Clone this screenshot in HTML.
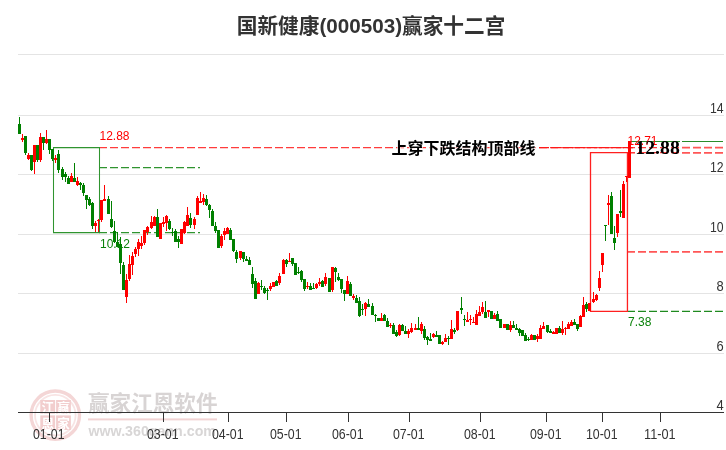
<!DOCTYPE html>
<html lang="zh-CN"><head><meta charset="utf-8"><title>国新健康(000503)赢家十二宫</title>
<style>
html,body{margin:0;padding:0;background:#fff;}
body{width:726px;height:450px;overflow:hidden;}
svg{display:block;}
text{font-family:"Liberation Sans","Noto Sans CJK SC",sans-serif;}
.ax{font-size:14.5px;fill:#333;}
.t{font-family:"Liberation Sans","Noto Sans CJK SC",sans-serif;font-weight:bold;}
</style></head><body>
<svg width="726" height="450" viewBox="0 0 726 450">
<rect width="726" height="450" fill="#fff"/>

<g shape-rendering="crispEdges" fill="#e4e4e4">
<rect x="18" y="54" width="706" height="1"/>
<rect x="18" y="115" width="706" height="1"/>
<rect x="18" y="174" width="706" height="1"/>
<rect x="18" y="234" width="706" height="1"/>
<rect x="18" y="293" width="706" height="1"/>
<rect x="18" y="353" width="706" height="1"/>
</g>
<g id="wm" opacity="1">
<circle cx="55.3" cy="415.2" r="24.2" fill="none" stroke="#f4d6d6" stroke-width="3.4"/>
<circle cx="55.3" cy="415.2" r="20.3" fill="none" stroke="#f8e4e4" stroke-width="1.8"/>
<rect x="40.3" y="400" width="14.8" height="13.6" fill="#f2cece"/>
<rect x="56.1" y="400" width="14.8" height="13.6" fill="#f2cece"/>
<rect x="40.3" y="415.4" width="14.8" height="14.6" fill="#f2cece"/>
<rect x="56.1" y="415.4" width="14.8" height="14.6" fill="#f2cece"/>
<text x="41.4" y="411.8" font-size="12.6" font-weight="bold" fill="#fff" class="t">江</text>
<text x="57.2" y="411.8" font-size="12.6" font-weight="bold" fill="#fff" class="t">赢</text>
<text x="41.4" y="427.6" font-size="12.6" font-weight="bold" fill="#fff" class="t">恩</text>
<text x="57.2" y="427.6" font-size="12.6" font-weight="bold" fill="#fff" class="t">家</text>
<text x="88" y="410.6" font-size="21.6" font-weight="bold" fill="#d8d4d4" class="t" textLength="129.5" lengthAdjust="spacingAndGlyphs">赢家江恩软件</text>
<rect x="88" y="418.4" width="129" height="2" fill="#f2d4d4"/>
<text x="88.5" y="435.7" font-size="14.2" font-weight="bold" fill="#d8d6d6" class="t" textLength="127.5" lengthAdjust="spacingAndGlyphs">www.360gann.com</text>
</g>

<g shape-rendering="crispEdges" fill="#333">
<rect x="18" y="412" width="706" height="1"/>
<rect x="49" y="412" width="1" height="10"/>
<rect x="163" y="412" width="1" height="10"/>
<rect x="228" y="412" width="1" height="10"/>
<rect x="286" y="412" width="1" height="10"/>
<rect x="348" y="412" width="1" height="10"/>
<rect x="409" y="412" width="1" height="10"/>
<rect x="480" y="412" width="1" height="10"/>
<rect x="546" y="412" width="1" height="10"/>
<rect x="602" y="412" width="1" height="10"/>
<rect x="660" y="412" width="1" height="10"/>
</g>
<text class="ax" x="48.8" y="438.6" text-anchor="middle" textLength="31.6" lengthAdjust="spacingAndGlyphs">01-01</text>
<text class="ax" x="162.8" y="438.6" text-anchor="middle" textLength="31.6" lengthAdjust="spacingAndGlyphs">03-01</text>
<text class="ax" x="227.8" y="438.6" text-anchor="middle" textLength="31.6" lengthAdjust="spacingAndGlyphs">04-01</text>
<text class="ax" x="285.8" y="438.6" text-anchor="middle" textLength="31.6" lengthAdjust="spacingAndGlyphs">05-01</text>
<text class="ax" x="347.8" y="438.6" text-anchor="middle" textLength="31.6" lengthAdjust="spacingAndGlyphs">06-01</text>
<text class="ax" x="408.8" y="438.6" text-anchor="middle" textLength="31.6" lengthAdjust="spacingAndGlyphs">07-01</text>
<text class="ax" x="479.8" y="438.6" text-anchor="middle" textLength="31.6" lengthAdjust="spacingAndGlyphs">08-01</text>
<text class="ax" x="545.8" y="438.6" text-anchor="middle" textLength="31.6" lengthAdjust="spacingAndGlyphs">09-01</text>
<text class="ax" x="601.8" y="438.6" text-anchor="middle" textLength="31.6" lengthAdjust="spacingAndGlyphs">10-01</text>
<text class="ax" x="659.8" y="438.6" text-anchor="middle" textLength="31.6" lengthAdjust="spacingAndGlyphs">11-01</text>
<text class="ax" x="723.6" y="113" text-anchor="end" textLength="13.6" lengthAdjust="spacingAndGlyphs">14</text>
<text class="ax" x="723.6" y="172" text-anchor="end" textLength="13.6" lengthAdjust="spacingAndGlyphs">12</text>
<text class="ax" x="723.6" y="232" text-anchor="end" textLength="13.6" lengthAdjust="spacingAndGlyphs">10</text>
<text class="ax" x="723.6" y="291" text-anchor="end" textLength="7.2" lengthAdjust="spacingAndGlyphs">8</text>
<text class="ax" x="723.6" y="351" text-anchor="end" textLength="7.2" lengthAdjust="spacingAndGlyphs">6</text>
<text class="ax" x="723.6" y="410" text-anchor="end" textLength="7.2" lengthAdjust="spacingAndGlyphs">4</text>
<g fill="none" stroke-width="1.25">
<path d="M99 147.65H682" stroke="#ff3c3c" stroke-dasharray="8 3"/>
<path d="M99 167.65H200" stroke="#2f942f" stroke-dasharray="8 3"/>
<path d="M99 232.65H200" stroke="#2f942f" stroke-dasharray="8 3"/>
<path d="M53 147.65H100M53 232.65H100" stroke="#2f942f"/>
<path d="M53.5 147.5V232.8M99.5 147.5V232.8" stroke="#2f942f" stroke-width="1.05"/>
<path d="M539 147.65H635" stroke="#ff1818" stroke-dasharray="10 2"/>
<path d="M628 152.7H635" stroke="#ff1818"/>
<path d="M627 152.7H682" stroke="#ff3c3c" stroke-dasharray="8 3"/>
<path d="M631 141.5H680M682 141.5H723" stroke="#2a8c2a" stroke-width="1" shape-rendering="crispEdges"/>
<path d="M682 147.7H724" stroke="#ff5656" stroke-width="1.7" stroke-dasharray="8 3"/>
<path d="M682 152.8H724" stroke="#ff5656" stroke-width="1.7" stroke-dasharray="8 3"/>
<path d="M627 251.9H724" stroke="#ff5656" stroke-width="1.7" stroke-dasharray="8 3"/>
<path d="M627 311.4H724" stroke="#1f8a1f" stroke-width="1.3" stroke-dasharray="8 3"/>
<path d="M590.5 152.6H627.45V311.4H590.5Z" stroke="#ff2020" stroke-width="1.3"/>
</g>
<text x="99.5" y="140" font-size="12" fill="#ff0000">12.88</text>
<text x="100" y="248" font-size="12" fill="#0a820a">10.12</text>
<text x="628" y="326.2" font-size="12" fill="#0a820a">7.38</text>
<text x="627.5" y="145.2" font-size="12" fill="#ff0000">12.71</text>

<g shape-rendering="crispEdges">
<rect x="19" y="117" width="1" height="17" fill="#008000"/>
<rect x="18" y="124" width="3" height="10" fill="#008000"/>
<rect x="22" y="134" width="1" height="8" fill="#ff0000"/>
<rect x="21" y="138" width="3" height="2" fill="#ff0000"/>
<rect x="25" y="136" width="1" height="19" fill="#008000"/>
<rect x="24" y="136" width="3" height="17" fill="#008000"/>
<rect x="28" y="153" width="1" height="7" fill="#ff0000"/>
<rect x="27" y="155" width="3" height="4" fill="#ff0000"/>
<rect x="31" y="155" width="1" height="16" fill="#008000"/>
<rect x="30" y="155" width="3" height="15" fill="#008000"/>
<rect x="34" y="145" width="1" height="29" fill="#ff0000"/>
<rect x="33" y="145" width="3" height="17" fill="#ff0000"/>
<rect x="37" y="145" width="1" height="17" fill="#008000"/>
<rect x="36" y="145" width="3" height="15" fill="#008000"/>
<rect x="40" y="133" width="1" height="29" fill="#ff0000"/>
<rect x="39" y="137" width="3" height="23" fill="#ff0000"/>
<rect x="43" y="137" width="1" height="13" fill="#008000"/>
<rect x="42" y="137" width="3" height="6" fill="#008000"/>
<rect x="46" y="130" width="1" height="14" fill="#ff0000"/>
<rect x="45" y="139" width="3" height="4" fill="#ff0000"/>
<rect x="49" y="139" width="1" height="15" fill="#008000"/>
<rect x="48" y="139" width="3" height="11" fill="#008000"/>
<rect x="52" y="149" width="1" height="12" fill="#008000"/>
<rect x="51" y="149" width="3" height="10" fill="#008000"/>
<rect x="55" y="155" width="1" height="8" fill="#ff0000"/>
<rect x="54" y="158" width="3" height="2" fill="#ff0000"/>
<rect x="58" y="150" width="1" height="23" fill="#008000"/>
<rect x="57" y="154" width="3" height="16" fill="#008000"/>
<rect x="62" y="167" width="1" height="13" fill="#008000"/>
<rect x="61" y="169" width="3" height="8" fill="#008000"/>
<rect x="65" y="172" width="1" height="10" fill="#008000"/>
<rect x="64" y="174" width="3" height="3" fill="#008000"/>
<rect x="68" y="176" width="1" height="8" fill="#008000"/>
<rect x="67" y="178" width="3" height="6" fill="#008000"/>
<rect x="71" y="173" width="1" height="9" fill="#ff0000"/>
<rect x="70" y="176" width="3" height="6" fill="#ff0000"/>
<rect x="74" y="163" width="1" height="19" fill="#008000"/>
<rect x="73" y="178" width="3" height="4" fill="#008000"/>
<rect x="77" y="177" width="1" height="9" fill="#ff0000"/>
<rect x="76" y="181" width="3" height="4" fill="#ff0000"/>
<rect x="80" y="182" width="1" height="8" fill="#008000"/>
<rect x="79" y="183" width="3" height="2" fill="#008000"/>
<rect x="83" y="183" width="1" height="13" fill="#008000"/>
<rect x="82" y="185" width="3" height="8" fill="#008000"/>
<rect x="86" y="195" width="1" height="14" fill="#008000"/>
<rect x="85" y="195" width="3" height="5" fill="#008000"/>
<rect x="89" y="197" width="1" height="9" fill="#008000"/>
<rect x="88" y="199" width="3" height="6" fill="#008000"/>
<rect x="92" y="202" width="1" height="27" fill="#008000"/>
<rect x="91" y="203" width="3" height="23" fill="#008000"/>
<rect x="95" y="221" width="1" height="11" fill="#ff0000"/>
<rect x="94" y="223" width="3" height="3" fill="#ff0000"/>
<rect x="98" y="219" width="1" height="13" fill="#ff0000"/>
<rect x="97" y="220" width="3" height="1" fill="#ff0000"/>
<rect x="101" y="200" width="1" height="22" fill="#ff0000"/>
<rect x="100" y="200" width="3" height="20" fill="#ff0000"/>
<rect x="104" y="185" width="1" height="16" fill="#ff0000"/>
<rect x="103" y="199" width="3" height="2" fill="#ff0000"/>
<rect x="108" y="196" width="1" height="18" fill="#008000"/>
<rect x="107" y="199" width="3" height="15" fill="#008000"/>
<rect x="111" y="201" width="1" height="27" fill="#008000"/>
<rect x="110" y="219" width="3" height="8" fill="#008000"/>
<rect x="114" y="221" width="1" height="22" fill="#008000"/>
<rect x="113" y="231" width="3" height="11" fill="#008000"/>
<rect x="117" y="232" width="1" height="15" fill="#008000"/>
<rect x="116" y="242" width="3" height="5" fill="#008000"/>
<rect x="120" y="237" width="1" height="37" fill="#008000"/>
<rect x="119" y="244" width="3" height="19" fill="#008000"/>
<rect x="123" y="262" width="1" height="28" fill="#008000"/>
<rect x="122" y="265" width="3" height="25" fill="#008000"/>
<rect x="126" y="274" width="1" height="29" fill="#ff0000"/>
<rect x="125" y="280" width="3" height="17" fill="#ff0000"/>
<rect x="129" y="255" width="1" height="26" fill="#ff0000"/>
<rect x="128" y="264" width="3" height="15" fill="#ff0000"/>
<rect x="132" y="252" width="1" height="23" fill="#ff0000"/>
<rect x="131" y="256" width="3" height="9" fill="#ff0000"/>
<rect x="135" y="247" width="1" height="10" fill="#ff0000"/>
<rect x="134" y="249" width="3" height="5" fill="#ff0000"/>
<rect x="138" y="239" width="1" height="17" fill="#ff0000"/>
<rect x="137" y="242" width="3" height="7" fill="#ff0000"/>
<rect x="141" y="236" width="1" height="13" fill="#ff0000"/>
<rect x="140" y="243" width="3" height="3" fill="#ff0000"/>
<rect x="144" y="230" width="1" height="15" fill="#ff0000"/>
<rect x="143" y="230" width="3" height="13" fill="#ff0000"/>
<rect x="147" y="226" width="1" height="9" fill="#ff0000"/>
<rect x="146" y="227" width="3" height="5" fill="#ff0000"/>
<rect x="151" y="216" width="1" height="13" fill="#ff0000"/>
<rect x="150" y="222" width="3" height="6" fill="#ff0000"/>
<rect x="154" y="216" width="1" height="10" fill="#ff0000"/>
<rect x="153" y="217" width="3" height="9" fill="#ff0000"/>
<rect x="157" y="209" width="1" height="28" fill="#008000"/>
<rect x="156" y="217" width="3" height="20" fill="#008000"/>
<rect x="160" y="223" width="1" height="16" fill="#ff0000"/>
<rect x="159" y="223" width="3" height="16" fill="#ff0000"/>
<rect x="163" y="217" width="1" height="10" fill="#ff0000"/>
<rect x="162" y="222" width="3" height="2" fill="#ff0000"/>
<rect x="166" y="215" width="1" height="16" fill="#ff0000"/>
<rect x="165" y="216" width="3" height="7" fill="#ff0000"/>
<rect x="169" y="219" width="1" height="11" fill="#008000"/>
<rect x="168" y="221" width="3" height="8" fill="#008000"/>
<rect x="172" y="228" width="1" height="8" fill="#008000"/>
<rect x="171" y="232" width="3" height="1" fill="#008000"/>
<rect x="175" y="229" width="1" height="13" fill="#008000"/>
<rect x="174" y="231" width="3" height="11" fill="#008000"/>
<rect x="178" y="236" width="1" height="12" fill="#008000"/>
<rect x="177" y="239" width="3" height="3" fill="#008000"/>
<rect x="181" y="229" width="1" height="15" fill="#ff0000"/>
<rect x="180" y="229" width="3" height="15" fill="#ff0000"/>
<rect x="184" y="221" width="1" height="13" fill="#ff0000"/>
<rect x="183" y="222" width="3" height="11" fill="#ff0000"/>
<rect x="187" y="207" width="1" height="19" fill="#ff0000"/>
<rect x="186" y="215" width="3" height="11" fill="#ff0000"/>
<rect x="190" y="213" width="1" height="15" fill="#008000"/>
<rect x="189" y="218" width="3" height="7" fill="#008000"/>
<rect x="194" y="217" width="1" height="12" fill="#ff0000"/>
<rect x="193" y="219" width="3" height="6" fill="#ff0000"/>
<rect x="197" y="196" width="1" height="19" fill="#ff0000"/>
<rect x="196" y="198" width="3" height="17" fill="#ff0000"/>
<rect x="200" y="192" width="1" height="11" fill="#ff0000"/>
<rect x="199" y="201" width="3" height="2" fill="#ff0000"/>
<rect x="203" y="194" width="1" height="11" fill="#ff0000"/>
<rect x="202" y="198" width="3" height="4" fill="#ff0000"/>
<rect x="206" y="195" width="1" height="11" fill="#008000"/>
<rect x="205" y="199" width="3" height="6" fill="#008000"/>
<rect x="209" y="204" width="1" height="14" fill="#008000"/>
<rect x="208" y="205" width="3" height="5" fill="#008000"/>
<rect x="212" y="209" width="1" height="17" fill="#008000"/>
<rect x="211" y="211" width="3" height="15" fill="#008000"/>
<rect x="215" y="222" width="1" height="11" fill="#008000"/>
<rect x="214" y="226" width="3" height="5" fill="#008000"/>
<rect x="218" y="230" width="1" height="18" fill="#008000"/>
<rect x="217" y="230" width="3" height="18" fill="#008000"/>
<rect x="221" y="234" width="1" height="14" fill="#ff0000"/>
<rect x="220" y="236" width="3" height="10" fill="#ff0000"/>
<rect x="224" y="228" width="1" height="12" fill="#ff0000"/>
<rect x="223" y="231" width="3" height="4" fill="#ff0000"/>
<rect x="227" y="227" width="1" height="7" fill="#ff0000"/>
<rect x="226" y="228" width="3" height="6" fill="#ff0000"/>
<rect x="230" y="228" width="1" height="12" fill="#008000"/>
<rect x="229" y="230" width="3" height="10" fill="#008000"/>
<rect x="233" y="239" width="1" height="13" fill="#008000"/>
<rect x="232" y="239" width="3" height="12" fill="#008000"/>
<rect x="236" y="250" width="1" height="13" fill="#008000"/>
<rect x="235" y="252" width="3" height="7" fill="#008000"/>
<rect x="240" y="251" width="1" height="9" fill="#ff0000"/>
<rect x="239" y="251" width="3" height="7" fill="#ff0000"/>
<rect x="243" y="252" width="1" height="10" fill="#008000"/>
<rect x="242" y="252" width="3" height="7" fill="#008000"/>
<rect x="246" y="256" width="1" height="5" fill="#008000"/>
<rect x="245" y="259" width="3" height="2" fill="#008000"/>
<rect x="249" y="257" width="1" height="8" fill="#008000"/>
<rect x="248" y="260" width="3" height="5" fill="#008000"/>
<rect x="252" y="267" width="1" height="21" fill="#008000"/>
<rect x="251" y="274" width="3" height="10" fill="#008000"/>
<rect x="255" y="278" width="1" height="21" fill="#008000"/>
<rect x="254" y="281" width="3" height="18" fill="#008000"/>
<rect x="258" y="282" width="1" height="12" fill="#ff0000"/>
<rect x="257" y="283" width="3" height="11" fill="#ff0000"/>
<rect x="261" y="280" width="1" height="10" fill="#008000"/>
<rect x="260" y="286" width="3" height="1" fill="#008000"/>
<rect x="264" y="286" width="1" height="8" fill="#008000"/>
<rect x="263" y="288" width="3" height="5" fill="#008000"/>
<rect x="267" y="288" width="1" height="12" fill="#008000"/>
<rect x="266" y="290" width="3" height="1" fill="#008000"/>
<rect x="270" y="283" width="1" height="8" fill="#ff0000"/>
<rect x="269" y="286" width="3" height="3" fill="#ff0000"/>
<rect x="273" y="282" width="1" height="5" fill="#ff0000"/>
<rect x="272" y="282" width="3" height="5" fill="#ff0000"/>
<rect x="276" y="280" width="1" height="6" fill="#008000"/>
<rect x="275" y="281" width="3" height="5" fill="#008000"/>
<rect x="279" y="273" width="1" height="12" fill="#ff0000"/>
<rect x="278" y="276" width="3" height="7" fill="#ff0000"/>
<rect x="283" y="259" width="1" height="15" fill="#ff0000"/>
<rect x="282" y="260" width="3" height="14" fill="#ff0000"/>
<rect x="286" y="259" width="1" height="8" fill="#008000"/>
<rect x="285" y="260" width="3" height="4" fill="#008000"/>
<rect x="289" y="253" width="1" height="9" fill="#ff0000"/>
<rect x="288" y="261" width="3" height="1" fill="#ff0000"/>
<rect x="292" y="258" width="1" height="8" fill="#008000"/>
<rect x="291" y="258" width="3" height="6" fill="#008000"/>
<rect x="295" y="263" width="1" height="12" fill="#008000"/>
<rect x="294" y="263" width="3" height="12" fill="#008000"/>
<rect x="298" y="267" width="1" height="7" fill="#008000"/>
<rect x="297" y="272" width="3" height="1" fill="#008000"/>
<rect x="301" y="270" width="1" height="12" fill="#008000"/>
<rect x="300" y="271" width="3" height="9" fill="#008000"/>
<rect x="304" y="279" width="1" height="12" fill="#008000"/>
<rect x="303" y="279" width="3" height="10" fill="#008000"/>
<rect x="307" y="282" width="1" height="7" fill="#ff0000"/>
<rect x="306" y="286" width="3" height="1" fill="#ff0000"/>
<rect x="310" y="283" width="1" height="7" fill="#008000"/>
<rect x="309" y="286" width="3" height="4" fill="#008000"/>
<rect x="313" y="283" width="1" height="6" fill="#008000"/>
<rect x="312" y="288" width="3" height="1" fill="#008000"/>
<rect x="316" y="283" width="1" height="6" fill="#ff0000"/>
<rect x="315" y="284" width="3" height="4" fill="#ff0000"/>
<rect x="319" y="278" width="1" height="8" fill="#ff0000"/>
<rect x="318" y="282" width="3" height="2" fill="#ff0000"/>
<rect x="322" y="280" width="1" height="7" fill="#008000"/>
<rect x="321" y="281" width="3" height="6" fill="#008000"/>
<rect x="325" y="273" width="1" height="13" fill="#ff0000"/>
<rect x="324" y="277" width="3" height="7" fill="#ff0000"/>
<rect x="329" y="278" width="1" height="14" fill="#008000"/>
<rect x="328" y="278" width="3" height="14" fill="#008000"/>
<rect x="332" y="267" width="1" height="25" fill="#ff0000"/>
<rect x="331" y="267" width="3" height="23" fill="#ff0000"/>
<rect x="335" y="267" width="1" height="15" fill="#008000"/>
<rect x="334" y="268" width="3" height="4" fill="#008000"/>
<rect x="338" y="273" width="1" height="8" fill="#008000"/>
<rect x="337" y="277" width="3" height="3" fill="#008000"/>
<rect x="341" y="279" width="1" height="14" fill="#008000"/>
<rect x="340" y="279" width="3" height="10" fill="#008000"/>
<rect x="344" y="290" width="1" height="11" fill="#008000"/>
<rect x="343" y="290" width="3" height="4" fill="#008000"/>
<rect x="347" y="276" width="1" height="18" fill="#ff0000"/>
<rect x="346" y="281" width="3" height="13" fill="#ff0000"/>
<rect x="350" y="282" width="1" height="14" fill="#008000"/>
<rect x="349" y="284" width="3" height="12" fill="#008000"/>
<rect x="353" y="294" width="1" height="6" fill="#ff0000"/>
<rect x="352" y="296" width="3" height="2" fill="#ff0000"/>
<rect x="356" y="295" width="1" height="8" fill="#008000"/>
<rect x="355" y="298" width="3" height="5" fill="#008000"/>
<rect x="359" y="297" width="1" height="20" fill="#008000"/>
<rect x="358" y="301" width="3" height="15" fill="#008000"/>
<rect x="362" y="304" width="1" height="11" fill="#008000"/>
<rect x="361" y="309" width="3" height="1" fill="#008000"/>
<rect x="365" y="302" width="1" height="14" fill="#ff0000"/>
<rect x="364" y="303" width="3" height="6" fill="#ff0000"/>
<rect x="368" y="299" width="1" height="8" fill="#008000"/>
<rect x="367" y="304" width="3" height="3" fill="#008000"/>
<rect x="372" y="303" width="1" height="12" fill="#008000"/>
<rect x="371" y="306" width="3" height="9" fill="#008000"/>
<rect x="375" y="314" width="1" height="8" fill="#008000"/>
<rect x="374" y="315" width="3" height="1" fill="#008000"/>
<rect x="378" y="318" width="1" height="3" fill="#008000"/>
<rect x="377" y="318" width="3" height="3" fill="#008000"/>
<rect x="381" y="313" width="1" height="8" fill="#ff0000"/>
<rect x="380" y="318" width="3" height="3" fill="#ff0000"/>
<rect x="384" y="314" width="1" height="7" fill="#008000"/>
<rect x="383" y="315" width="3" height="6" fill="#008000"/>
<rect x="387" y="318" width="1" height="9" fill="#008000"/>
<rect x="386" y="321" width="3" height="6" fill="#008000"/>
<rect x="390" y="323" width="1" height="5" fill="#ff0000"/>
<rect x="389" y="325" width="3" height="1" fill="#ff0000"/>
<rect x="393" y="323" width="1" height="11" fill="#008000"/>
<rect x="392" y="325" width="3" height="9" fill="#008000"/>
<rect x="396" y="330" width="1" height="7" fill="#008000"/>
<rect x="395" y="332" width="3" height="4" fill="#008000"/>
<rect x="399" y="324" width="1" height="12" fill="#ff0000"/>
<rect x="398" y="325" width="3" height="10" fill="#ff0000"/>
<rect x="402" y="324" width="1" height="7" fill="#008000"/>
<rect x="401" y="325" width="3" height="6" fill="#008000"/>
<rect x="405" y="326" width="1" height="8" fill="#008000"/>
<rect x="404" y="331" width="3" height="3" fill="#008000"/>
<rect x="408" y="329" width="1" height="9" fill="#ff0000"/>
<rect x="407" y="331" width="3" height="3" fill="#ff0000"/>
<rect x="411" y="323" width="1" height="10" fill="#ff0000"/>
<rect x="410" y="328" width="3" height="4" fill="#ff0000"/>
<rect x="415" y="324" width="1" height="6" fill="#ff0000"/>
<rect x="414" y="328" width="3" height="2" fill="#ff0000"/>
<rect x="418" y="317" width="1" height="13" fill="#008000"/>
<rect x="417" y="328" width="3" height="2" fill="#008000"/>
<rect x="421" y="322" width="1" height="12" fill="#ff0000"/>
<rect x="420" y="324" width="3" height="7" fill="#ff0000"/>
<rect x="424" y="326" width="1" height="14" fill="#008000"/>
<rect x="423" y="329" width="3" height="9" fill="#008000"/>
<rect x="427" y="336" width="1" height="9" fill="#008000"/>
<rect x="426" y="337" width="3" height="3" fill="#008000"/>
<rect x="430" y="333" width="1" height="8" fill="#008000"/>
<rect x="429" y="339" width="3" height="2" fill="#008000"/>
<rect x="433" y="333" width="1" height="5" fill="#ff0000"/>
<rect x="432" y="334" width="3" height="3" fill="#ff0000"/>
<rect x="436" y="331" width="1" height="6" fill="#008000"/>
<rect x="435" y="335" width="3" height="2" fill="#008000"/>
<rect x="439" y="335" width="1" height="9" fill="#008000"/>
<rect x="438" y="335" width="3" height="9" fill="#008000"/>
<rect x="442" y="341" width="1" height="4" fill="#ff0000"/>
<rect x="441" y="342" width="3" height="2" fill="#ff0000"/>
<rect x="445" y="334" width="1" height="8" fill="#ff0000"/>
<rect x="444" y="338" width="3" height="4" fill="#ff0000"/>
<rect x="448" y="336" width="1" height="9" fill="#008000"/>
<rect x="447" y="338" width="3" height="1" fill="#008000"/>
<rect x="451" y="320" width="1" height="19" fill="#ff0000"/>
<rect x="450" y="329" width="3" height="10" fill="#ff0000"/>
<rect x="454" y="328" width="1" height="6" fill="#008000"/>
<rect x="453" y="330" width="3" height="2" fill="#008000"/>
<rect x="457" y="311" width="1" height="20" fill="#ff0000"/>
<rect x="456" y="311" width="3" height="19" fill="#ff0000"/>
<rect x="461" y="297" width="1" height="17" fill="#008000"/>
<rect x="460" y="308" width="3" height="2" fill="#008000"/>
<rect x="464" y="315" width="1" height="11" fill="#008000"/>
<rect x="463" y="319" width="3" height="1" fill="#008000"/>
<rect x="467" y="312" width="1" height="10" fill="#ff0000"/>
<rect x="466" y="320" width="3" height="2" fill="#ff0000"/>
<rect x="470" y="315" width="1" height="10" fill="#ff0000"/>
<rect x="469" y="319" width="3" height="1" fill="#ff0000"/>
<rect x="473" y="317" width="1" height="6" fill="#ff0000"/>
<rect x="472" y="322" width="3" height="1" fill="#ff0000"/>
<rect x="476" y="310" width="1" height="15" fill="#ff0000"/>
<rect x="475" y="314" width="3" height="11" fill="#ff0000"/>
<rect x="479" y="306" width="1" height="10" fill="#ff0000"/>
<rect x="478" y="312" width="3" height="4" fill="#ff0000"/>
<rect x="482" y="302" width="1" height="12" fill="#ff0000"/>
<rect x="481" y="307" width="3" height="5" fill="#ff0000"/>
<rect x="485" y="301" width="1" height="17" fill="#008000"/>
<rect x="484" y="312" width="3" height="6" fill="#008000"/>
<rect x="488" y="310" width="1" height="7" fill="#ff0000"/>
<rect x="487" y="310" width="3" height="2" fill="#ff0000"/>
<rect x="491" y="311" width="1" height="8" fill="#008000"/>
<rect x="490" y="311" width="3" height="8" fill="#008000"/>
<rect x="494" y="313" width="1" height="6" fill="#ff0000"/>
<rect x="493" y="315" width="3" height="4" fill="#ff0000"/>
<rect x="497" y="311" width="1" height="10" fill="#008000"/>
<rect x="496" y="314" width="3" height="7" fill="#008000"/>
<rect x="500" y="319" width="1" height="9" fill="#008000"/>
<rect x="499" y="319" width="3" height="9" fill="#008000"/>
<rect x="504" y="324" width="1" height="4" fill="#ff0000"/>
<rect x="503" y="324" width="3" height="4" fill="#ff0000"/>
<rect x="507" y="324" width="1" height="6" fill="#008000"/>
<rect x="506" y="324" width="3" height="6" fill="#008000"/>
<rect x="510" y="321" width="1" height="11" fill="#ff0000"/>
<rect x="509" y="325" width="3" height="5" fill="#ff0000"/>
<rect x="513" y="321" width="1" height="7" fill="#008000"/>
<rect x="512" y="325" width="3" height="3" fill="#008000"/>
<rect x="516" y="324" width="1" height="6" fill="#008000"/>
<rect x="515" y="328" width="3" height="2" fill="#008000"/>
<rect x="519" y="328" width="1" height="8" fill="#008000"/>
<rect x="518" y="329" width="3" height="4" fill="#008000"/>
<rect x="522" y="330" width="1" height="6" fill="#008000"/>
<rect x="521" y="330" width="3" height="6" fill="#008000"/>
<rect x="525" y="333" width="1" height="8" fill="#008000"/>
<rect x="524" y="335" width="3" height="6" fill="#008000"/>
<rect x="528" y="337" width="1" height="4" fill="#008000"/>
<rect x="527" y="339" width="3" height="1" fill="#008000"/>
<rect x="531" y="334" width="1" height="6" fill="#ff0000"/>
<rect x="530" y="335" width="3" height="5" fill="#ff0000"/>
<rect x="534" y="335" width="1" height="5" fill="#008000"/>
<rect x="533" y="335" width="3" height="5" fill="#008000"/>
<rect x="537" y="334" width="1" height="8" fill="#ff0000"/>
<rect x="536" y="336" width="3" height="3" fill="#ff0000"/>
<rect x="540" y="325" width="1" height="14" fill="#ff0000"/>
<rect x="539" y="328" width="3" height="11" fill="#ff0000"/>
<rect x="543" y="322" width="1" height="7" fill="#ff0000"/>
<rect x="542" y="326" width="3" height="3" fill="#ff0000"/>
<rect x="547" y="325" width="1" height="8" fill="#008000"/>
<rect x="546" y="325" width="3" height="7" fill="#008000"/>
<rect x="550" y="329" width="1" height="4" fill="#008000"/>
<rect x="549" y="331" width="3" height="2" fill="#008000"/>
<rect x="553" y="331" width="1" height="3" fill="#ff0000"/>
<rect x="552" y="332" width="3" height="2" fill="#ff0000"/>
<rect x="556" y="328" width="1" height="6" fill="#ff0000"/>
<rect x="555" y="328" width="3" height="6" fill="#ff0000"/>
<rect x="559" y="326" width="1" height="7" fill="#008000"/>
<rect x="558" y="328" width="3" height="5" fill="#008000"/>
<rect x="562" y="321" width="1" height="14" fill="#ff0000"/>
<rect x="561" y="329" width="3" height="4" fill="#ff0000"/>
<rect x="565" y="327" width="1" height="8" fill="#ff0000"/>
<rect x="564" y="328" width="3" height="1" fill="#ff0000"/>
<rect x="568" y="322" width="1" height="7" fill="#ff0000"/>
<rect x="567" y="324" width="3" height="5" fill="#ff0000"/>
<rect x="571" y="320" width="1" height="6" fill="#ff0000"/>
<rect x="570" y="322" width="3" height="4" fill="#ff0000"/>
<rect x="574" y="319" width="1" height="6" fill="#008000"/>
<rect x="573" y="322" width="3" height="3" fill="#008000"/>
<rect x="577" y="324" width="1" height="7" fill="#008000"/>
<rect x="576" y="324" width="3" height="5" fill="#008000"/>
<rect x="580" y="315" width="1" height="12" fill="#ff0000"/>
<rect x="579" y="316" width="3" height="11" fill="#ff0000"/>
<rect x="583" y="297" width="1" height="20" fill="#ff0000"/>
<rect x="582" y="305" width="3" height="12" fill="#ff0000"/>
<rect x="586" y="302" width="1" height="10" fill="#008000"/>
<rect x="585" y="304" width="3" height="5" fill="#008000"/>
<rect x="589" y="303" width="1" height="8" fill="#ff0000"/>
<rect x="588" y="303" width="3" height="8" fill="#ff0000"/>
<rect x="593" y="292" width="1" height="11" fill="#ff0000"/>
<rect x="592" y="299" width="3" height="3" fill="#ff0000"/>
<rect x="596" y="294" width="1" height="7" fill="#ff0000"/>
<rect x="595" y="295" width="3" height="5" fill="#ff0000"/>
<rect x="599" y="271" width="1" height="20" fill="#ff0000"/>
<rect x="598" y="278" width="3" height="10" fill="#ff0000"/>
<rect x="602" y="253" width="1" height="19" fill="#ff0000"/>
<rect x="601" y="253" width="3" height="12" fill="#ff0000"/>
<rect x="605" y="225" width="1" height="16" fill="#008000"/>
<rect x="604" y="225" width="3" height="1" fill="#008000"/>
<rect x="608" y="195" width="1" height="30" fill="#ff0000"/>
<rect x="607" y="203" width="3" height="2" fill="#ff0000"/>
<rect x="611" y="192" width="1" height="42" fill="#008000"/>
<rect x="610" y="196" width="3" height="38" fill="#008000"/>
<rect x="614" y="226" width="1" height="24" fill="#008000"/>
<rect x="613" y="238" width="3" height="5" fill="#008000"/>
<rect x="617" y="214" width="1" height="23" fill="#ff0000"/>
<rect x="616" y="214" width="3" height="19" fill="#ff0000"/>
<rect x="620" y="190" width="1" height="27" fill="#008000"/>
<rect x="619" y="211" width="3" height="2" fill="#008000"/>
<rect x="623" y="181" width="1" height="37" fill="#ff0000"/>
<rect x="622" y="184" width="3" height="34" fill="#ff0000"/>
<rect x="626" y="176" width="1" height="6" fill="#ff0000"/>
<rect x="625" y="176" width="3" height="1" fill="#ff0000"/>
<rect x="629" y="141" width="1" height="37" fill="#ff0000"/>
<rect x="628" y="141" width="3" height="37" fill="#ff0000"/>
</g>
<text x="391.5" y="153.6" font-size="16" font-weight="bold" fill="#000" class="t" stroke="#fff" stroke-width="1.6" stroke-opacity="0.75" paint-order="stroke">上穿下跌结构顶部线</text>
<text x="635.3" y="153.8" font-size="18.3" font-weight="bold" fill="#000" textLength="44.5" lengthAdjust="spacingAndGlyphs" style="font-family:'Liberation Serif','Noto Serif CJK SC',serif">12.88</text>
<text x="236.8" y="33.2" font-size="21" font-weight="bold" fill="#333" textLength="268.5" lengthAdjust="spacingAndGlyphs" class="t">国新健康(000503)赢家十二宫</text>

</svg>
</body></html>
